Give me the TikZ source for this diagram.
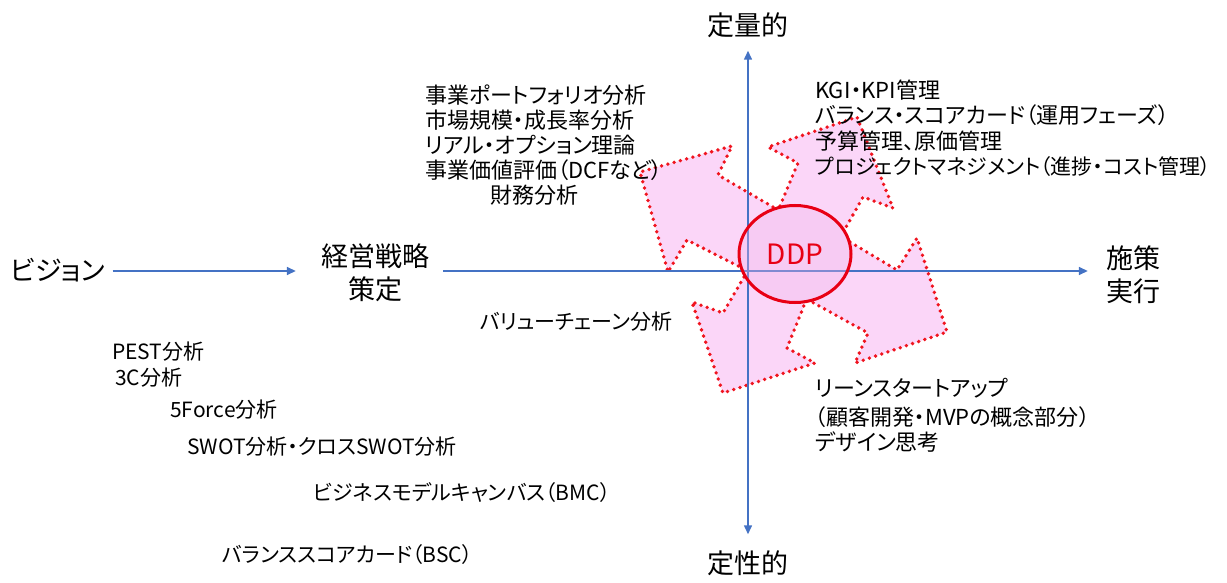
\documentclass[tikz,border=0pt]{standalone}
\usepackage{fontspec}
\setmainfont{Noto Sans CJK JP}[RawFeature=+palt]
\usetikzlibrary{arrows.meta,shapes.geometric}
\definecolor{axisblue}{RGB}{68,114,196}
\definecolor{dotred}{RGB}{240,20,30}
\definecolor{ddpred}{RGB}{232,0,20}
\definecolor{arrowpink}{RGB}{251,214,248}
\definecolor{ellpink}{RGB}{242,185,236}
\begin{document}
\begin{tikzpicture}[x=1pt,y=-1pt,
  big/.style={font=\fontsize{27}{33}\selectfont, inner sep=0pt, align=center},
  item/.style={font=\fontsize{22}{26}\selectfont, anchor=west, inner sep=0pt},
  itemb/.style={font=\fontsize{21}{25}\selectfont, anchor=west, inner sep=0pt},
  axisline/.style={draw=axisblue, line width=1.5pt},
  tip/.style={-{Triangle[length=9pt,width=8pt]}},
  arrowfill/.style={fill=arrowpink, draw=none},
  arrowline/.style={draw=dotred, line width=3.8pt, line cap=round, line join=round, dash pattern=on 0pt off 6.5pt},
]
\useasboundingbox (0,0) rectangle (1227,583);
\fill[white] (0,0) rectangle (1227,583);

% four block arrows
\fill[arrowfill] (795,254) -- (773,207) -- (718,175) -- (732,146) -- (640,172) -- (668,272) -- (687,240) -- (742,268) -- cycle;
\fill[arrowfill] (795,254) -- (780,206) -- (798,163) -- (768,147) -- (857,117) -- (893,208) -- (863,197) -- (845,229) -- cycle;
\fill[arrowfill] (795,254) -- (850,242) -- (897,270) -- (917,238) -- (947,332) -- (855,363) -- (868,333) -- (812,302) -- cycle;
\fill[arrowfill] (795,254) -- (744,277) -- (723,313) -- (692,302) -- (723,393) -- (815,363) -- (787,348) -- (805,303) -- cycle;
\fill[arrowfill] (795,254) ellipse [x radius=56pt, y radius=48.5pt];
\draw[arrowline] (773,207) -- (718,175) -- (732,146) -- (640,172) -- (668,272) -- (687,240) -- (742,268);
\draw[arrowline] (780,206) -- (798,163) -- (768,147) -- (857,117) -- (893,208) -- (863,197) -- (845,229);
\draw[arrowline] (850,242) -- (897,270) -- (917,238) -- (947,332) -- (855,363) -- (868,333) -- (812,302);
\draw[arrowline] (744,277) -- (723,313) -- (692,302) -- (723,393) -- (815,363) -- (787,348) -- (805,303);

% labels of the axes
\node[big, anchor=west] (vision) at (10,270) {ビジョン};
\node[big] (strat) at (375,273) {経営戦略\\策定};
\node[big] (exec) at (1133,275) {施策\\実行};
\node[big] (quant) at (748,25) {定量的};
\node[big] (qual) at (748,563) {定性的};
\coordinate (O) at (748,271);

% axes
\draw[axisline, tip, shorten <=7pt, shorten >=25pt] (vision.east |- O) -- (strat.west |- O);
\draw[axisline, tip, shorten <=14pt, shorten >=18pt] (strat.east |- O) -- (exec.west |- O);
\draw[axisline, {Triangle[length=9pt,width=8pt]}-{Triangle[length=9pt,width=8pt]}, shorten <=13pt, shorten >=16pt] (quant.south -| O) -- (qual.north -| O);

% DDP
\node[ellipse, draw=ddpred, line width=3pt, fill=ellpink, fill opacity=0.35, text opacity=1,
      minimum width=112pt, minimum height=97pt, inner sep=0pt, text=ddpred,
      font=\fontsize{28}{32}\selectfont] (ddp) at (795,254) {DDP};

% upper-left list
\node[item] (t1) at (425,95) {事業ポートフォリオ分析};
\node[item] (t2) at (425,120) {市場規模・成長率分析};
\node[item] (t3) at (425,145) {リアル・オプション理論};
\node[item] (t4) at (425,170) {事業価値評価（DCFなど）};
\node[item] (t5) at (490,195) {財務分析};

% upper-right list
\node[item] (r1) at (815,90) {KGI・KPI管理};
\node[item] (r2) at (815,115) {バランス・スコアカード（運用フェーズ）};
\node[item] (r3) at (815,141) {予算管理、原価管理};
\node[item, font=\fontsize{21}{25}\selectfont] (r4) at (815,167) {プロジェクトマネジメント（進捗・コスト管理）};

% lower-right list
\node[item] (s1) at (815,388) {リーンスタートアップ};
\node[item] (s2) at (815,417) {（顧客開発・MVPの概念部分）};
\node[item] (s3) at (815,442) {デザイン思考};

% middle
\node[itemb] (vc) at (480,322) {バリューチェーン分析};

% lower-left list
\node[itemb] (b1) at (112,352) {PEST分析};
\node[itemb] (b2) at (115,378) {3C分析};
\node[itemb] (b3) at (170,410) {5Force分析};
\node[itemb] (b4) at (187,447) {SWOT分析・クロスSWOT分析};
\node[itemb] (b5) at (313,493) {ビジネスモデルキャンバス（BMC）};
\node[itemb] (b6) at (222,555) {バランススコアカード（BSC）};
\end{tikzpicture}
\end{document}
